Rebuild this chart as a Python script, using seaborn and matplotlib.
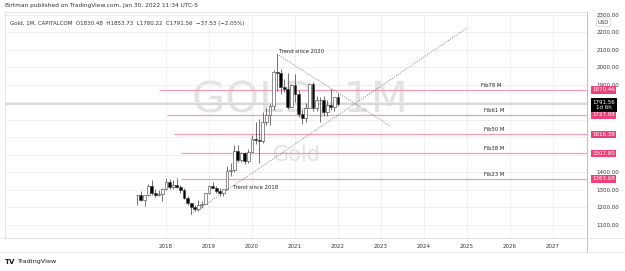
import pandas as pd
import seaborn as sns
import matplotlib.pyplot as plt

# monthly gold candles, May 2017 -> Jan 2022
months = pd.period_range('2017-05', '2022-01', freq='M')
opens = [1268, 1268, 1242, 1269, 1322, 1280, 1271, 1275,
         1303, 1345, 1318, 1325, 1315, 1298, 1252, 1224, 1201, 1192, 1215, 1222,
         1282, 1321, 1313, 1292, 1284, 1305, 1409, 1413, 1520, 1472, 1513, 1464,
         1517, 1589, 1585, 1577, 1687, 1730, 1781, 1975, 1968, 1887, 1879, 1776,
         1898, 1847, 1734, 1708, 1769, 1906, 1770, 1814, 1813, 1743, 1783, 1774,
         1830.48]
highs = [1270, 1296, 1270, 1331, 1357, 1306, 1299, 1309,
         1366, 1362, 1356, 1366, 1326, 1309, 1265, 1224, 1214, 1243, 1237, 1284,
         1326, 1347, 1324, 1310, 1306, 1439, 1453, 1555, 1557, 1518, 1516, 1535,
         1611, 1689, 1704, 1747, 1765, 1789, 1984, 2075, 1992, 1933, 1965, 1907,
         1959, 1871, 1755, 1798, 1913, 1917, 1834, 1833, 1834, 1814, 1877, 1831,
         1853.73]
lows = [1214, 1236, 1205, 1267, 1271, 1261, 1265, 1236,
        1302, 1307, 1303, 1310, 1282, 1245, 1211, 1160, 1180, 1182, 1196, 1221,
        1275, 1311, 1281, 1266, 1267, 1301, 1382, 1400, 1459, 1459, 1445, 1454,
        1517, 1563, 1451, 1568, 1670, 1671, 1757, 1863, 1849, 1860, 1764, 1775,
        1802, 1717, 1677, 1690, 1765, 1750, 1750, 1688, 1722, 1721, 1758, 1753,
        1780.22]
closes = [1268.9, 1242, 1269, 1322, 1280, 1271, 1275, 1303,
          1345, 1318, 1325, 1315, 1298, 1252, 1224, 1201, 1192, 1215, 1222, 1282,
          1321, 1313, 1292, 1284, 1305, 1409, 1413, 1520, 1472, 1513, 1464, 1517,
          1589, 1585, 1577, 1687, 1730, 1781, 1975, 1968, 1887, 1879, 1776, 1898,
          1847, 1734, 1708, 1769, 1906, 1770, 1814, 1813, 1743, 1783, 1774, 1829,
          1791.56]

fib_names = ['Fib78 M', 'Fib61 M', 'Fib50 M', 'Fib38 M', 'Fib23 M']
fib_levels = [1870.46, 1727.98, 1616.38, 1507.80, 1363.68]
fib_starts = [2017.84, 2018.02, 2018.19, 2018.35, 2018.35]

trend18_x = [2018.583, 2025.0]
trend18_y = [1160, 2225]
trend20_x = [2020.583, 2023.21]
trend20_y = [2075, 1665]

last_price = 1791.56
years = list(range(2018, 2028))
price_ticks = list(range(1100, 2400, 100))
hidden_ticks = [1500, 1600, 1700, 1800]

df = pd.DataFrame({'x': months.year + (months.month - 1) / 12,
                   'o': opens, 'h': highs, 'l': lows, 'c': closes})
df['up'] = df['c'] >= df['o']

sns.set_theme(style='white')
plt.rcParams['font.family'] = ['DejaVu Sans']

fig = plt.figure(figsize=(6.25, 2.71), dpi=100)
ax = fig.add_axes([5 / 625, 33 / 271, 582 / 625, 226 / 271])
ax.set_xlim(2014.256, 2027.79)
ax.set_ylim(1025, 2316)

# grid
ax.set_xticks(years)
ax.set_xticklabels([str(y) for y in years], fontsize=4, color='#333333')
ax.set_yticks(price_ticks)
ax.set_yticklabels(['' if p in hidden_ticks else f'{p:.2f}' for p in price_ticks],
                   fontsize=4, color='#333333')
ax.yaxis.tick_right()
ax.tick_params(axis='both', length=0)
ax.tick_params(axis='x', pad=4)
ax.tick_params(axis='y', pad=7)
ax.grid(True, color='#eeeeee', lw=0.6)
for s in ax.spines.values():
    s.set_color('#e0e0e0')
    s.set_linewidth(0.6)

# watermark
ax.text(0.507, 0.611, 'GOLD, 1M', transform=ax.transAxes, fontsize=31,
        color='#e2e2e2', ha='center', va='center', zorder=0)
ax.text(0.502, 0.367, 'Gold', transform=ax.transAxes, fontsize=15,
        color='#e2e2e2', ha='center', va='center', zorder=0)

# last price line
ax.axhline(last_price, color='#d8d8d8', lw=1.5, zorder=1)

# fib levels
ax.hlines(fib_levels, fib_starts, 2027.79, color='#f59ab9', lw=0.9, zorder=2)
for name, lvl in zip(fib_names, fib_levels):
    xl = 2025.33 if name == 'Fib78 M' else 2025.40
    ax.text(xl, lvl + 12, name, fontsize=3.8, color='#222222', va='bottom', ha='left')

# trend lines
sns.lineplot(x=trend18_x, y=trend18_y, ax=ax, color='#777777', lw=0.6,
             linestyle=(0, (1.2, 1.6)), zorder=2)
sns.lineplot(x=trend20_x, y=trend20_y, ax=ax, color='#777777', lw=0.6,
             linestyle=(0, (1.2, 1.6)), zorder=2)
ax.text(2019.56, 1316, 'Trend since 2018', fontsize=3.8, color='#222222', va='center')
ax.text(2020.63, 2093, 'Trend since 2020', fontsize=3.8, color='#222222', va='center')

# candles
ax.vlines(df['x'], df['l'], df['h'], color='#3a3a3a', lw=0.5, zorder=3)
body_bottom = df[['o', 'c']].min(axis=1)
body_h = (df['c'] - df['o']).abs().clip(lower=2)
ax.bar(df['x'], body_h, bottom=body_bottom, width=0.066,
       color=['white' if u else 'black' for u in df['up']],
       edgecolor='#3a3a3a', linewidth=0.4, zorder=4)

# price axis labels
tr = ax.get_yaxis_transform()
for lvl in fib_levels:
    ax.text(1.0285, lvl, f'{lvl:.2f}', transform=tr, fontsize=4, color='white',
            ha='center', va='center', clip_on=False, zorder=6,
            bbox=dict(boxstyle='square,pad=0.25', fc='#f0407a', ec='none'))
ax.text(1.0285, 1784, f'{last_price:.2f}\n1d 6h', transform=tr, fontsize=4,
        color='white', ha='center', va='center', clip_on=False, zorder=6,
        linespacing=1.15, bbox=dict(boxstyle='square,pad=0.3', fc='black', ec='none'))
ax.text(1.0285, 2258, 'USD', transform=tr, fontsize=3.8, color='#333333',
        ha='center', va='center', clip_on=False,
        bbox=dict(boxstyle='round,pad=0.3', fc='white', ec='#cccccc', lw=0.5))

# frame lines of the chart
fig.add_artist(plt.Line2D([587 / 625, 587 / 625], [1 - 252 / 271, 1 - 12 / 271],
                          color='#b8b8b8', lw=0.6))
fig.add_artist(plt.Line2D([0, 1], [1 - 252 / 271, 1 - 252 / 271], color='#e4e4e4', lw=0.6))
fig.add_artist(plt.Line2D([0, 1], [1 - 238 / 271, 1 - 238 / 271], color='#e4e4e4', lw=0.6))

# header and footer
fig.text(5 / 625, 1 - 6 / 271, 'Birtman published on TradingView.com, Jan 30, 2022 11:34 UTC-5',
         fontsize=4.2, color='#333333', va='center')
fig.text(10 / 625, 1 - 23 / 271,
         'Gold, 1M, CAPITALCOM  O1830.48  H1853.73  L1780.22  C1791.56  \u221237.53 (\u22122.05%)',
         fontsize=4, color='#333333', va='center')
fig.text(5 / 625, 1 - 262 / 271, 'TV', fontsize=5, fontweight='bold', color='#131722', va='center')
fig.text(17 / 625, 1 - 262 / 271, 'TradingView', fontsize=4.6, color='#131722', va='center')

fig.savefig('out.png', dpi=100, facecolor='white')
